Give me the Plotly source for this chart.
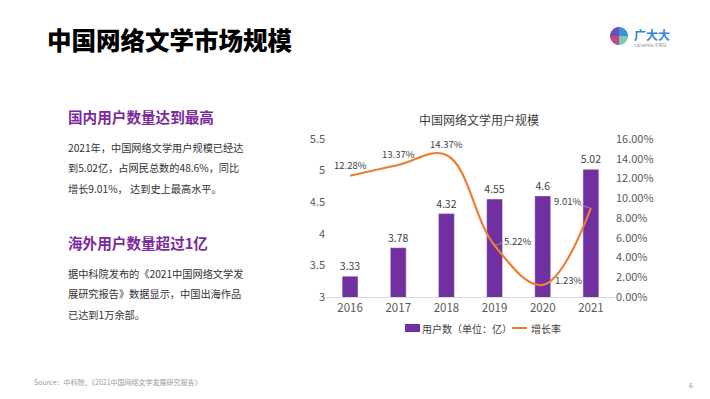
import math
import plotly.graph_objects as go

years = ["2016", "2017", "2018", "2019", "2020", "2021"]
users = [3.33, 3.78, 4.32, 4.55, 4.6, 5.02]
growth = [12.28, 13.37, 14.37, 5.22, 1.23, 9.01]
left_ticks = [3, 3.5, 4, 4.5, 5, 5.5]
left_tick_text = ["3", "3.5", "4", "4.5", "5", "5.5"]
right_ticks = [0, 2, 4, 6, 8, 10, 12, 14, 16]
right_tick_text = ["0.00%", "2.00%", "4.00%", "6.00%", "8.00%", "10.00%", "12.00%", "14.00%", "16.00%"]
bar_name = "用户数（单位：亿）"
line_name = "增长率"

W, H = 710, 399
CJK = "Noto Sans CJK SC"
PURPLE = "#7030A0"
ORANGE = "#ED7D31"
TICK = "#595959"
LBL = "#404040"

def px(x):
    return x / W

def py(y):
    return 1 - y / H

fig = go.Figure()
fig.add_trace(go.Bar(
    x=years, y=users, name=bar_name, marker_color=PURPLE, width=0.33,
    text=[f"{v:g}" for v in users], textposition="outside", constraintext="none",
    textfont=dict(family=CJK, size=10.5, color=LBL), cliponaxis=False, showlegend=False,
))
fig.add_trace(go.Scatter(
    x=years, y=growth, name=line_name, yaxis="y2", mode="lines", showlegend=False,
    line=dict(color=ORANGE, width=2.2, shape="spline", smoothing=1.1),
))

# line labels (x given as category index)
offsets = [
    (0, 11),
    (0, 11),
    (0, 11),
    (23, 4),
    (26, 5),
    (-23, 7),
]
for i, (g, (dx, dy)) in enumerate(zip(growth, offsets)):
    fig.add_annotation(x=i, y=g, xref="x", yref="y2", text=f"{g:.2f}%", showarrow=False,
                       xshift=dx, yshift=dy, font=dict(family=CJK, size=9.5, color=LBL))
# leader lines
for i, (ax, ay) in [(3, (10, -3)), (4, (11, -4)), (5, (-12, -3))]:
    fig.add_annotation(x=i, y=growth[i], xref="x", yref="y2", text="", showarrow=True, arrowhead=0,
                       axref="pixel", ayref="pixel",
                       arrowwidth=0.8, arrowcolor="#A6A6A6", ax=ax, ay=ay, standoff=1)

fig.update_layout(
    width=W, height=H, margin=dict(l=0, r=0, t=0, b=0, autoexpand=False),
    paper_bgcolor="white", plot_bgcolor="white",
    showlegend=False,
    xaxis=dict(type="category", categoryorder="array", categoryarray=years, range=[-0.5, 5.5],
               autorange=False, domain=[px(326), px(615)], showgrid=False, showline=True, linecolor="#D9D9D9",
               linewidth=1, ticks="", automargin=False, tickfont=dict(family=CJK, size=11.5, color=TICK)),
    yaxis=dict(range=[3, 5.5], tickvals=left_ticks, ticktext=left_tick_text, showgrid=False, automargin=False,
               zeroline=False, domain=[py(297), py(139)], tickfont=dict(family=CJK, size=11, color=TICK)),
    yaxis2=dict(range=[0, 16], tickvals=right_ticks, ticktext=right_tick_text, overlaying="y", automargin=False,
                side="right", showgrid=False, zeroline=False, tickfont=dict(family=CJK, size=11, color=TICK)),
)

# legend (drawn manually)
fig.add_shape(type="rect", xref="paper", yref="paper", x0=px(405), x1=px(420), y0=py(332), y1=py(324),
              fillcolor=PURPLE, line=dict(width=0))
fig.add_annotation(xref="paper", yref="paper", x=px(420), y=py(328), xanchor="left", yanchor="middle",
                   text=bar_name, showarrow=False, font=dict(family=CJK, size=10, color=LBL))
fig.add_shape(type="line", xref="paper", yref="paper", x0=px(512), x1=px(527), y0=py(328), y1=py(328),
              line=dict(color=ORANGE, width=2))
fig.add_annotation(xref="paper", yref="paper", x=px(529), y=py(328), xanchor="left", yanchor="middle",
                   text=line_name, showarrow=False, font=dict(family=CJK, size=10, color=LBL))

# chart title
fig.add_annotation(xref="paper", yref="paper", x=px(479), y=py(119), xanchor="center", yanchor="middle",
                   text="中国网络文学用户规模", showarrow=False, font=dict(family=CJK, size=12, color=LBL))

# page title
fig.add_annotation(xref="paper", yref="paper", x=px(45), y=py(39), xanchor="left", yanchor="middle",
                   text="中国网络文学市场规模", showarrow=False,
                   font=dict(family=CJK, size=24.5, color="#000000", weight=900))

SUB = "#7B2A9D"
BODY = "#333333"
fig.add_annotation(xref="paper", yref="paper", x=px(66), y=py(116), xanchor="left", yanchor="middle",
                   text="<b>国内用户数量达到最高</b>", showarrow=False, font=dict(family=CJK, size=14.6, color=SUB))
for i, line in enumerate(["2021年，中国网络文学用户规模已经达", "到5.02亿，占网民总数的48.6%，同比", "增长9.01%， 达到史上最高水平。"]):
    fig.add_annotation(xref="paper", yref="paper", x=px(66), y=py(147 + 20.5 * i), xanchor="left", yanchor="middle",
                       text=line, showarrow=False, font=dict(family=CJK, size=10.2, color=BODY))
fig.add_annotation(xref="paper", yref="paper", x=px(66), y=py(242), xanchor="left", yanchor="middle",
                   text="<b>海外用户数量超过1亿</b>", showarrow=False, font=dict(family=CJK, size=14.6, color=SUB))
for i, line in enumerate(["据中科院发布的《2021中国网络文学发", "展研究报告》数据显示，中国出海作品", "已达到1万余部。"]):
    fig.add_annotation(xref="paper", yref="paper", x=px(66), y=py(273 + 20.5 * i), xanchor="left", yanchor="middle",
                       text=line, showarrow=False, font=dict(family=CJK, size=10.2, color=BODY))

# footer
fig.add_annotation(xref="paper", yref="paper", x=px(32), y=py(382), xanchor="left", yanchor="middle",
                   text="Source：中科院，《2021中国网络文学发展研究报告》", showarrow=False,
                   font=dict(family=CJK, size=7, color="#9A9A9A"))
fig.add_annotation(xref="paper", yref="paper", x=px(691), y=py(385), xanchor="center", yanchor="middle",
                   text="6", showarrow=False, font=dict(family=CJK, size=7, color="#9A9A9A"))

# logo (decorative shapes)
cx, cy, r = 619, 36, 9
def quarter(a0, color):
    pts = []
    for k in range(0, 11):
        a = math.radians(a0 + 9 * k)
        pts.append((cx + r * math.cos(a), cy - r * math.sin(a)))
    d = f"M {px(cx)},{py(cy)} " + " ".join(f"L {px(x)},{py(y)}" for x, y in pts) + " Z"
    fig.add_shape(type="path", path=d, xref="paper", yref="paper", fillcolor=color, line=dict(width=0))
quarter(0, "#3F8FDD")
quarter(90, "#6A4FB8")
quarter(180, "#C2448C")
quarter(270, "#7CC9B4")
fig.add_annotation(xref="paper", yref="paper", x=px(632), y=py(34), xanchor="left", yanchor="middle",
                   text="<b>广大大</b>", showarrow=False, font=dict(family=CJK, size=12, color="#2F86D8"))
fig.add_annotation(xref="paper", yref="paper", x=px(632), y=py(45), xanchor="left", yanchor="middle",
                   text="SocialPeta 中国站", showarrow=False, font=dict(family=CJK, size=4, color="#8A8A8A"))

fig.write_html("out.html", config={"displayModeBar": False},
               post_script="document.body.style.margin='0';document.body.style.padding='0';")
